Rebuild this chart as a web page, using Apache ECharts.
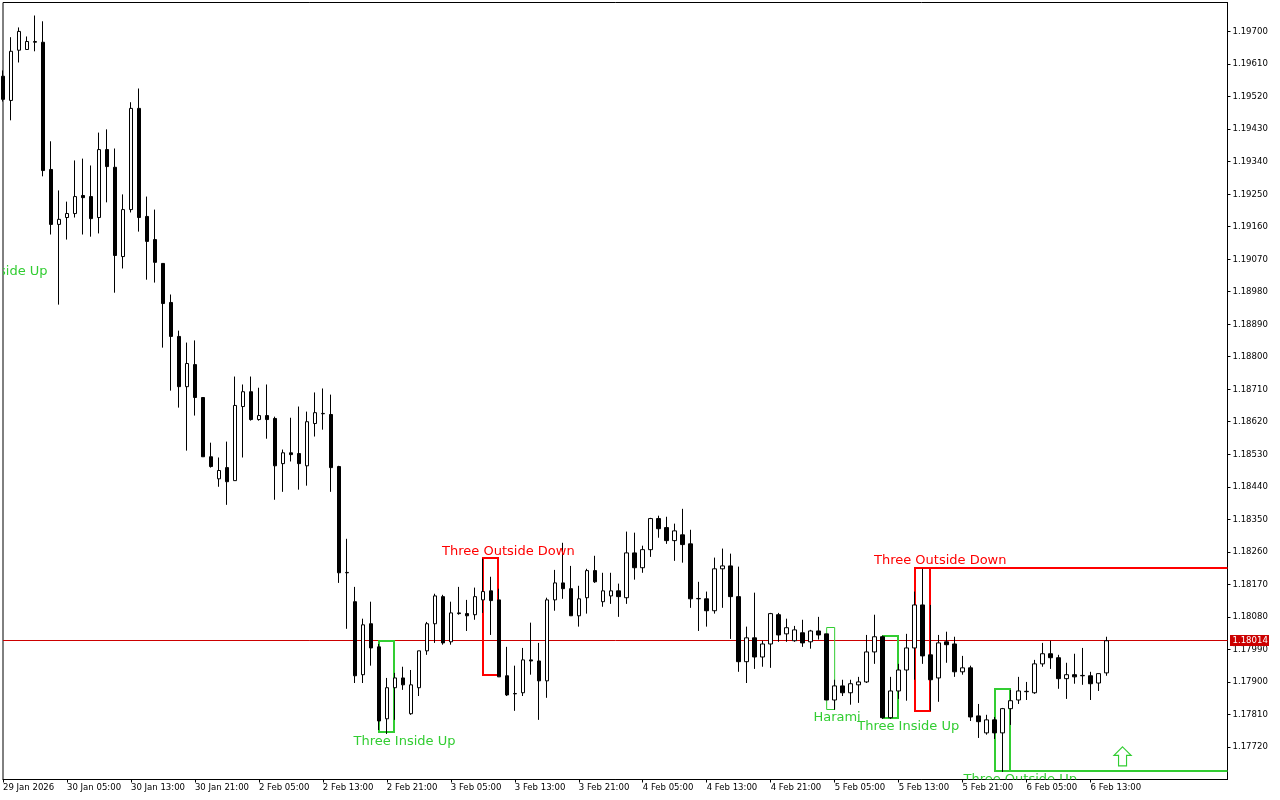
<!DOCTYPE html>
<html>
<head>
<meta charset="utf-8">
<title>EURUSD H1 candlestick patterns</title>
<script src="https://cdn.jsdelivr.net/npm/echarts@6/dist/echarts.min.js"></script>
<style>
  html, body { margin: 0; padding: 0; background: #fff; }
  #main { width: 1280px; height: 800px; }
</style>
</head>
<body>
<div id="main"></div>
<script>
// hourly bars
var opens = [
  1.19576, 1.19509, 1.19648, 1.19650, 1.19670, 1.19670, 1.19318, 1.19166, 1.19185, 1.19196,
  1.19246, 1.19243, 1.19185, 1.19373, 1.19324, 1.19077, 1.19207, 1.19487, 1.19188, 1.19124,
  1.19058, 1.18950, 1.18856, 1.18717, 1.18778, 1.18687, 1.18523, 1.18462, 1.18493, 1.18457,
  1.18662, 1.18703, 1.18626, 1.18637, 1.18629, 1.18504, 1.18534, 1.18532, 1.18498, 1.18615,
  1.18642, 1.18640, 1.18496, 1.18202, 1.18122, 1.17920, 1.18061, 1.17997, 1.17798, 1.17884,
  1.17911, 1.17812, 1.17884, 1.17986, 1.18061, 1.18136, 1.18011, 1.18091, 1.18089, 1.18086,
  1.18127, 1.18152, 1.18127, 1.17917, 1.17867, 1.17870, 1.17961, 1.17958, 1.17903, 1.18127,
  1.18174, 1.18158, 1.18083, 1.18133, 1.18208, 1.18122, 1.18138, 1.18152, 1.18133, 1.18257,
  1.18216, 1.18266, 1.18352, 1.18327, 1.18291, 1.18307, 1.18282, 1.18130, 1.18130, 1.18097,
  1.18213, 1.18221, 1.18136, 1.17956, 1.18022, 1.17969, 1.18005, 1.18086, 1.18033, 1.18014,
  1.18036, 1.18011, 1.18041, 1.18033, 1.17850, 1.17889, 1.17870, 1.17892, 1.17900, 1.17983,
  1.18025, 1.17801, 1.17875, 1.17933, 1.17994, 1.18113, 1.17975, 1.17911, 1.18011, 1.18005,
  1.17928, 1.17939, 1.17806, 1.17759, 1.17795, 1.17759, 1.17826, 1.17850, 1.17873, 1.17870,
  1.17950, 1.17978, 1.17967, 1.17909, 1.17920, 1.17917, 1.17917, 1.17897, 1.17925
];
var closes = [
  1.19512, 1.19645, 1.19700, 1.19672, 1.19672, 1.19315, 1.19166, 1.19180, 1.19196, 1.19243,
  1.19240, 1.19182, 1.19373, 1.19326, 1.19080, 1.19207, 1.19487, 1.19185, 1.19119, 1.19061,
  1.18947, 1.18856, 1.18717, 1.18781, 1.18687, 1.18523, 1.18496, 1.18485, 1.18454, 1.18665,
  1.18703, 1.18626, 1.18637, 1.18626, 1.18498, 1.18534, 1.18529, 1.18504, 1.18620, 1.18645,
  1.18643, 1.18493, 1.18202, 1.18203, 1.17917, 1.18058, 1.17994, 1.17792, 1.17884, 1.17911,
  1.17892, 1.17892, 1.17986, 1.18061, 1.18138, 1.18008, 1.18091, 1.18089, 1.18083, 1.18136,
  1.18150, 1.18125, 1.17914, 1.17864, 1.17868, 1.17961, 1.17958, 1.17903, 1.18127, 1.18174,
  1.18158, 1.18083, 1.18130, 1.18208, 1.18177, 1.18152, 1.18152, 1.18136, 1.18257, 1.18216,
  1.18266, 1.18352, 1.18324, 1.18291, 1.18318, 1.18280, 1.18130, 1.18131, 1.18097, 1.18213,
  1.18221, 1.18136, 1.17956, 1.18022, 1.17969, 1.18005, 1.18089, 1.18030, 1.18050, 1.18044,
  1.18008, 1.18041, 1.18030, 1.17850, 1.17889, 1.17870, 1.17895, 1.17900, 1.17983, 1.18025,
  1.17801, 1.17875, 1.17933, 1.17994, 1.18113, 1.17972, 1.17906, 1.18008, 1.18003, 1.17928,
  1.17939, 1.17803, 1.17790, 1.17795, 1.17759, 1.17826, 1.17848, 1.17875, 1.17874, 1.17950,
  1.17978, 1.17967, 1.17909, 1.17920, 1.17914, 1.17918, 1.17895, 1.17923, 1.18014
];
var highs = [
  1.19592, 1.19684, 1.19711, 1.19686, 1.19744, 1.19728, 1.19396, 1.19260, 1.19229, 1.19343,
  1.19348, 1.19329, 1.19420, 1.19429, 1.19376, 1.19249, 1.19504, 1.19542, 1.19243, 1.19207,
  1.19058, 1.18972, 1.18872, 1.18839, 1.18845, 1.18687, 1.18562, 1.18521, 1.18565, 1.18745,
  1.18723, 1.18745, 1.18714, 1.18723, 1.18634, 1.18543, 1.18631, 1.18662, 1.18648, 1.18701,
  1.18712, 1.18695, 1.18498, 1.18296, 1.18163, 1.18075, 1.18122, 1.18005, 1.17911, 1.17925,
  1.17942, 1.17933, 1.17986, 1.18066, 1.18144, 1.18141, 1.18122, 1.18163, 1.18127, 1.18161,
  1.18241, 1.18191, 1.18158, 1.17997, 1.17945, 1.17994, 1.18064, 1.18008, 1.18133, 1.18210,
  1.18285, 1.18221, 1.18166, 1.18213, 1.18249, 1.18202, 1.18202, 1.18172, 1.18316, 1.18313,
  1.18277, 1.18354, 1.18360, 1.18357, 1.18338, 1.18379, 1.18321, 1.18177, 1.18150, 1.18244,
  1.18269, 1.18255, 1.18219, 1.18053, 1.18147, 1.18014, 1.18091, 1.18091, 1.18075, 1.18055,
  1.18072, 1.18044, 1.18080, 1.18033, 1.17906, 1.17906, 1.17906, 1.17914, 1.18030, 1.18086,
  1.18028, 1.17914, 1.17950, 1.18033, 1.18150, 1.18213, 1.18113, 1.18030, 1.18039, 1.18025,
  1.17972, 1.17945, 1.17839, 1.17809, 1.17803, 1.17828, 1.17878, 1.17914, 1.17900, 1.17961,
  1.18008, 1.18014, 1.17975, 1.17953, 1.17978, 1.17994, 1.17928, 1.17923, 1.18025
];
var lows = [
  1.19506, 1.19454, 1.19614, 1.19650, 1.19645, 1.19299, 1.19138, 1.18944, 1.19124, 1.19185,
  1.19138, 1.19132, 1.19141, 1.19227, 1.18977, 1.19044, 1.19199, 1.19146, 1.19013, 1.19005,
  1.18825, 1.18706, 1.18659, 1.18540, 1.18637, 1.18523, 1.18493, 1.18440, 1.18390, 1.18457,
  1.18521, 1.18623, 1.18623, 1.18573, 1.18404, 1.18426, 1.18510, 1.18432, 1.18443, 1.18579,
  1.18598, 1.18426, 1.18174, 1.18047, 1.17897, 1.17897, 1.17945, 1.17767, 1.17756, 1.17795,
  1.17878, 1.17809, 1.17861, 1.17975, 1.18008, 1.18003, 1.18003, 1.18086, 1.18041, 1.18072,
  1.18091, 1.18030, 1.17914, 1.17861, 1.17820, 1.17861, 1.17920, 1.17795, 1.17856, 1.18097,
  1.18130, 1.18083, 1.18053, 1.18089, 1.18174, 1.18108, 1.18116, 1.18080, 1.18116, 1.18183,
  1.18202, 1.18246, 1.18299, 1.18282, 1.18235, 1.18230, 1.18105, 1.18041, 1.18053, 1.18089,
  1.18105, 1.18019, 1.17928, 1.17897, 1.17936, 1.17942, 1.17939, 1.18011, 1.18011, 1.18011,
  1.17997, 1.17992, 1.18017, 1.17850, 1.17823, 1.17861, 1.17837, 1.17842, 1.17897, 1.17950,
  1.17798, 1.17798, 1.17853, 1.17848, 1.17906, 1.17950, 1.17820, 1.17845, 1.17953, 1.17914,
  1.17920, 1.17792, 1.17745, 1.17754, 1.17742, 1.17651, 1.17781, 1.17839, 1.17850, 1.17867,
  1.17942, 1.17936, 1.17881, 1.17853, 1.17895, 1.17892, 1.17850, 1.17875, 1.17917
];

// one label every 8 bars
var timeLabels = [
  '29 Jan 2026', '30 Jan 05:00', '30 Jan 13:00', '30 Jan 21:00', '2 Feb 05:00', '2 Feb 13:00',
  '2 Feb 21:00', '3 Feb 05:00', '3 Feb 13:00', '3 Feb 21:00', '4 Feb 05:00', '4 Feb 13:00',
  '4 Feb 21:00', '5 Feb 05:00', '5 Feb 13:00', '5 Feb 21:00', '6 Feb 05:00', '6 Feb 13:00'
];
var timeTicks = [0, 8, 16, 24, 32, 40, 48, 56, 64, 72, 80, 88, 96, 104, 112, 120, 128, 136];
var priceTicks = [
  1.17720, 1.17810, 1.17900, 1.17990, 1.18080, 1.18170, 1.18260, 1.18350,
  1.18440, 1.18530, 1.18620, 1.18710, 1.18800, 1.18890, 1.18980, 1.19070,
  1.19160, 1.19250, 1.19340, 1.19430, 1.19520, 1.19610, 1.19700
];
var lastPrice = 1.18014;

// pattern boxes: first bar, last bar, top price, bottom price
var boxStart = [47, 60, 103, 110, 114, 124];
var boxEnd = [49, 62, 104, 112, 116, 126];
var boxTop = [1.18011, 1.18241, 1.18050, 1.18025, 1.18213, 1.17878];
var boxBottom = [1.17759, 1.17917, 1.17823, 1.17798, 1.17817, 1.17651];
var boxKind = ['bull', 'bear', 'bull', 'bull', 'bear', 'bull'];
var boxThin = [false, false, true, false, false, false];
// the two newest patterns keep a level running to the right edge
var boxLevel = [null, null, null, null, 1.18213, 1.17651];

var patternNames = ['Three Inside Up', 'Three Inside Up', 'Three Outside Down', 'Harami', 'Three Inside Up', 'Three Outside Down', 'Three Outside Up'];
var patternBar = [-0.8, 50.2, 63.2, 104.3, 113.2, 117.2, 127.2];
var patternPrice = [1.19035, 1.17734, 1.18260, 1.17800, 1.17776, 1.18235, 1.17629];
var patternKind = ['bull', 'bull', 'bear', 'bull', 'bull', 'bear', 'bull'];

var arrowBar = 140;
var arrowPrice = 1.17694;

var kindColor = { bull: '#32cd32', bear: '#ff0000' };
var axisFont = '"DejaVu Sans Condensed", "DejaVu Sans", sans-serif';

var candleData = opens.map(function (o, i) {
  return [i, o, closes[i], lows[i], highs[i]];
});

var boxData = boxStart.map(function (s, i) {
  return [s, boxEnd[i], boxTop[i], boxBottom[i], i];
});

var textData = patternNames.map(function (n, i) {
  return [patternBar[i], patternPrice[i], i];
});

function renderBox(params, api) {
  var k = api.value(4);
  var tl = api.coord([api.value(0), api.value(2)]);
  var br = api.coord([api.value(1), api.value(3)]);
  var color = kindColor[boxKind[k]];
  var thin = boxThin[k];
  var lw = thin ? 1 : 2;
  // keep the strokes on whole pixels
  var x0 = thin ? tl[0] : Math.round(tl[0]);
  var x1 = thin ? br[0] : Math.round(br[0]) - 1;
  var y0 = thin ? Math.floor(tl[1]) + 0.5 : Math.round(tl[1]) - 1;
  var y1 = thin ? Math.floor(br[1]) + 0.5 : Math.round(br[1]) - 1;
  var children = [{
    type: 'rect',
    shape: { x: x0, y: y0, width: x1 - x0, height: y1 - y0 },
    style: { fill: 'none', stroke: color, lineWidth: lw }
  }];
  if (boxLevel[k] !== null) {
    var y = Math.round(api.coord([0, boxLevel[k]])[1]) - 1;
    children.push({
      type: 'line',
      shape: { x1: x1, y1: y, x2: params.coordSys.x + params.coordSys.width, y2: y },
      style: { stroke: color, lineWidth: lw }
    });
  }
  return { type: 'group', children: children };
}

function renderText(params, api) {
  var k = api.value(2);
  var p = api.coord([api.value(0), api.value(1)]);
  return {
    type: 'text',
    style: {
      text: patternNames[k],
      x: p[0],
      y: p[1],
      align: 'center',
      verticalAlign: 'middle',
      fill: kindColor[patternKind[k]],
      font: '13px "DejaVu Sans"'
    }
  };
}

// current price line with its tag over the price scale
function renderLast(params, api) {
  var y = Math.floor(api.coord([0, api.value(0)])[1]) + 0.5;
  var right = params.coordSys.x + params.coordSys.width;
  return {
    type: 'group',
    children: [
      {
        type: 'line',
        shape: { x1: params.coordSys.x, y1: y, x2: right, y2: y },
        style: { stroke: '#cc0000', lineWidth: 1 }
      },
      {
        type: 'rect',
        shape: { x: right + 2.5, y: y - 5.5, width: 39, height: 11 },
        style: { fill: '#cc0000' }
      },
      {
        type: 'text',
        style: {
          text: api.value(0).toFixed(5),
          x: right + 5,
          y: y,
          verticalAlign: 'middle',
          fill: '#ffffff',
          font: '9.5px ' + axisFont
        }
      }
    ]
  };
}

var myChart = echarts.init(document.getElementById('main'));

var option = {
  animation: false,
  backgroundColor: '#ffffff',
  grid: {
    show: true,
    left: 2.5,
    top: 2.5,
    right: 52.5,
    bottom: 20.5,
    borderColor: '#000000',
    borderWidth: 1,
    backgroundColor: '#ffffff'
  },
  xAxis: {
    type: 'value',
    min: 0,
    max: 153.125,
    axisLine: { show: true, onZero: false, lineStyle: { color: '#000000', width: 1 } },
    axisTick: { show: true, length: 3, lineStyle: { color: '#000000' }, customValues: timeTicks },
    axisLabel: {
      customValues: timeTicks,
      align: 'left',
      margin: 3,
      color: '#000000',
      fontFamily: axisFont,
      fontSize: 9.5,
      formatter: function (v) { return timeLabels[v / 8]; }
    },
    splitLine: { show: false }
  },
  yAxis: {
    type: 'value',
    position: 'right',
    min: 1.1763,
    max: 1.1978,
    axisLine: { show: true, onZero: false, lineStyle: { color: '#000000', width: 1 } },
    axisTick: { show: true, length: 3, lineStyle: { color: '#000000' }, customValues: priceTicks },
    axisLabel: {
      customValues: priceTicks,
      margin: 5,
      color: '#000000',
      fontFamily: axisFont,
      fontSize: 9.5,
      formatter: function (v) { return v.toFixed(5); }
    },
    splitLine: { show: false }
  },
  series: [
    {
      type: 'custom',
      coordinateSystem: 'cartesian2d',
      renderItem: renderLast,
      data: [[lastPrice]],
      encode: { y: 0 },
      silent: true,
      z: 1
    },
    {
      type: 'custom',
      coordinateSystem: 'cartesian2d',
      renderItem: renderBox,
      data: boxData,
      encode: { x: 0, y: 2 },
      clip: true,
      silent: true,
      z: 1
    },
    {
      type: 'candlestick',
      data: candleData,
      barWidth: 4,
      itemStyle: {
        color: '#ffffff',
        color0: '#000000',
        borderColor: '#000000',
        borderColor0: '#000000',
        borderWidth: 1
      },
      z: 2
    },
    {
      type: 'custom',
      coordinateSystem: 'cartesian2d',
      renderItem: renderText,
      data: textData,
      encode: { x: 0, y: 1 },
      clip: true,
      silent: true,
      z: 3
    },
    {
      type: 'scatter',
      data: [[arrowBar, arrowPrice]],
      symbol: 'path://M8.5 0 L17 8.5 L12.5 8.5 L12.5 19 L4.5 19 L4.5 8.5 L0 8.5 Z',
      symbolSize: [17, 19],
      itemStyle: { color: '#ffffff', borderColor: '#32cd32', borderWidth: 1.2, opacity: 1 },
      silent: true,
      z: 4
    }
  ]
};

myChart.setOption(option);
</script>
</body>
</html>
